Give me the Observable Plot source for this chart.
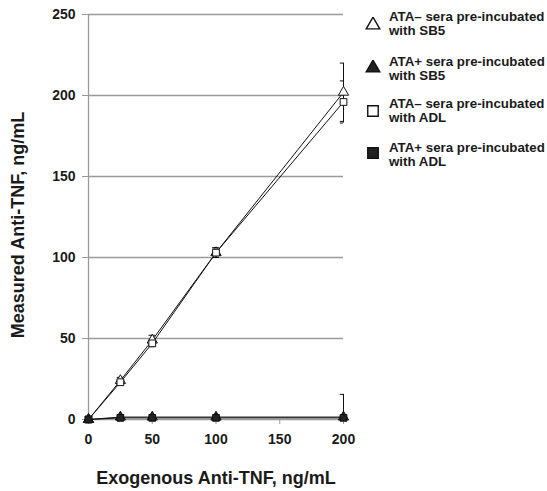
<!DOCTYPE html>
<html>
<head>
<meta charset="utf-8">
<script src="https://cdn.jsdelivr.net/npm/d3@7"></script>
<script src="https://cdn.jsdelivr.net/npm/@observablehq/plot@0.6"></script>
<style>
  html, body { margin: 0; padding: 0; background: #fff; }
  #wrap { position: relative; width: 547px; height: 491px; font-family: "Liberation Sans", Arial, sans-serif; }
  .leg { position: absolute; left: 389px; font-weight: bold; font-size: 13.3px; line-height: 13.5px; color: #1a1a1a; white-space: nowrap; }
  .mk { position: absolute; }
</style>
</head>
<body>
<div id="wrap"></div>
<script>
const xVals = [0, 25, 50, 100, 200];
const seriesNames = [
  "ATA– sera pre-incubated with SB5",
  "ATA+ sera pre-incubated with SB5",
  "ATA– sera pre-incubated with ADL",
  "ATA+ sera pre-incubated with ADL"
];
const ataNegSB5 = [0, 24, 49, 103, 202];
const ataPosSB5 = [0, 1.5, 1.5, 1.5, 1.5];
const ataNegADL = [0, 23, 47, 103, 196];
const ataPosADL = [0, 1, 1, 1, 1];
const ataNegSB5Err = [0, 2, 3, 3, 18];
const ataPosSB5Err = [0, 0, 0, 0, 14];
const ataNegADLErr = [0, 1, 2, 3, 13];
const ataPosADLErr = [0, 0, 0, 0, 0];
const yTicks = [0, 50, 100, 150, 200, 250];
const xTicks = [0, 50, 100, 150, 200];

const symbols = ["triangle", "triangle", "square", "square"];
const fills = ["white", "#222", "white", "#222"];
const values = [ataNegSB5, ataPosSB5, ataNegADL, ataPosADL];
const errs = [ataNegSB5Err, ataPosSB5Err, ataNegADLErr, ataPosADLErr];

const rows = [];
values.forEach((vals, s) => {
  vals.forEach((v, i) => rows.push({s, name: seriesNames[s], x: xVals[i], y: v, e: errs[s][i]}));
});
const errRows = rows.filter(d => d.e > 0);
const xMax = 200, yMin = 0;

const fontProps = {fontWeight: "bold", fontSize: 14, fill: "#1a1a1a"};

const chart = Plot.plot({
  width: 547,
  height: 491,
  marginLeft: 88,
  marginRight: 204,
  marginTop: 14,
  marginBottom: 72,
  style: {fontFamily: "'Liberation Sans', Arial, sans-serif", background: "white"},
  x: {domain: [0, 200]},
  y: {domain: [0, 250]},
  symbol: {type: "identity"},
  fill: {type: "identity"},
  marks: [
    Plot.gridY(yTicks.filter(t => t > 0), {stroke: "#9a9a9a", strokeOpacity: 1, strokeWidth: 1.3}),
    Plot.ruleX([0], {stroke: "#9a9a9a", strokeWidth: 1.3}),
    Plot.ruleY([0], {stroke: "#9a9a9a", strokeWidth: 1.3}),
    Plot.axisY({ticks: yTicks, tickSize: 6, tickPadding: 7, label: null, stroke: "#9a9a9a", ...fontProps}),
    Plot.axisX({ticks: xTicks, tickSize: 5, tickPadding: 10, label: null, stroke: "#9a9a9a", ...fontProps}),
    Plot.line(rows, {x: "x", y: "y", z: "s", stroke: "#111", strokeWidth: 1}),
    Plot.ruleX(errRows, {x: "x", y1: d => Math.max(yMin, d.y - d.e), y2: d => d.y + d.e, stroke: "#111", strokeWidth: 1}),
    Plot.ruleY(errRows, {x1: d => d.x - 2.5, x2: d => Math.min(xMax, d.x + 2.5), y: d => d.y + d.e, stroke: "#111", strokeWidth: 1}),
    Plot.ruleY(errRows.filter(d => d.y - d.e > yMin), {x1: d => d.x - 2.5, x2: d => Math.min(xMax, d.x + 2.5), y: d => d.y - d.e, stroke: "#111", strokeWidth: 1}),
    Plot.dot(rows, {x: "x", y: "y", symbol: d => symbols[d.s], fill: d => fills[d.s], stroke: "#111", strokeWidth: 1, r: 3.8}),
    Plot.text(["Exogenous Anti-TNF, ng/mL"], {frameAnchor: "bottom", dy: 64, fontWeight: "bold", fontSize: 18, fill: "#1a1a1a"}),
    Plot.text(["Measured Anti-TNF, ng/mL"], {frameAnchor: "left", textAnchor: "middle", dx: -70, dy: 8, rotate: -90, fontWeight: "bold", fontSize: 18, fill: "#1a1a1a"})
  ]
});

const wrap = document.getElementById("wrap");
wrap.appendChild(chart);

// Legend
const legTops = [10, 55, 97, 141];
const mkCenters = [25, 68, 111, 153];
seriesNames.forEach((name, s) => {
  const parts = name.split(" with ");
  const t = document.createElement("div");
  t.className = "leg";
  t.style.top = legTops[s] + "px";
  t.innerHTML = parts[0] + "<br>with " + parts[1];
  wrap.appendChild(t);
  const svgNS = "http://www.w3.org/2000/svg";
  const m = document.createElementNS(svgNS, "svg");
  m.setAttribute("width", 16); m.setAttribute("height", 16);
  m.setAttribute("class", "mk");
  m.style.left = (373 - 8) + "px";
  m.style.top = (mkCenters[s] - 8) + "px";
  const p = document.createElementNS(svgNS, "path");
  const sym = symbols[s] === "triangle" ? d3.symbolTriangle : d3.symbolSquare;
  p.setAttribute("d", d3.symbol(sym, symbols[s] === "triangle" ? 80 : 110)());
  p.setAttribute("transform", "translate(8,8)");
  p.setAttribute("fill", fills[s]);
  p.setAttribute("stroke", "#111");
  p.setAttribute("stroke-width", "1.4");
  m.appendChild(p);
  wrap.appendChild(m);
});
</script>
</body>
</html>
